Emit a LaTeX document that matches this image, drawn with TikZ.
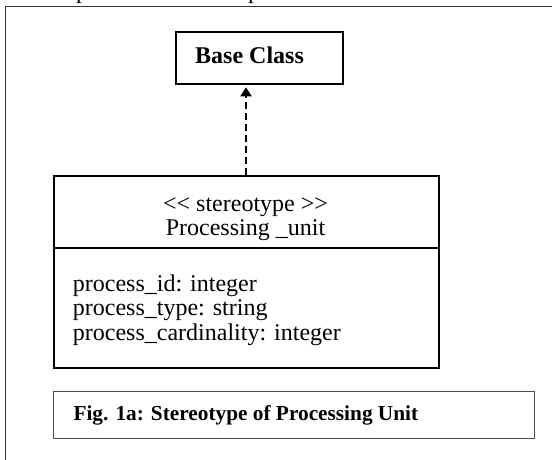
\documentclass[tikz,border=0pt]{standalone}
\usepackage{fontspec}
\setmainfont{Liberation Serif}
\usetikzlibrary{arrows.meta}
\begin{document}
\begin{tikzpicture}[x=1pt,y=-1pt,
  frameline/.style={draw=black!80,line width=1pt},
  umlbox/.style={draw=black,line width=2pt,rectangle,inner sep=0pt,anchor=north west},
  capbox/.style={draw=black!70,line width=0.9pt,rectangle,inner sep=0pt,anchor=north west},
  txt/.style={inner sep=0pt,font=\fontsize{24}{24.5}\selectfont},
  boldtxt/.style={inner sep=0pt,font=\fontsize{24}{24.5}\selectfont\bfseries},
  captxt/.style={inner sep=0pt,font=\fontsize{21.3}{24}\selectfont\bfseries},
  dep/.style={line width=2pt,dash pattern=on 7pt off 4pt,-{Triangle[length=9pt,width=11pt]},shorten >=2pt}]
\useasboundingbox (0,0) rectangle (552,459);
% page frame, running off the right and bottom edges
\draw[frameline] (5,470) -- (5,6) -- (560,6);
% tails of the line of text above the frame
\node[txt,anchor=base] (tailA) at (82,-1.5) {p};
\node[txt,anchor=base] (tailB) at (254,-1.5) {p};
% base class
\node[umlbox,minimum width=167pt,minimum height=52.6pt] (base) at (174.5,30.7) {};
\node[boldtxt,anchor=base west] (basename) at (195,63.3) {Base Class};
% stereotype class: name compartment and attribute compartment
\node[umlbox,minimum width=384.4pt,minimum height=71.5pt] (head) at (53.3,175) {};
\node[umlbox,minimum width=384.4pt,minimum height=120.2pt] (body) at (53.3,246.5) {};
\node[txt,anchor=base] (stereo) at (245.5,211.7) {<{}< stereotype >{}>};
\node[txt,anchor=base] (cname) at (245.5,235.2) {Processing \_unit};
\node[txt,anchor=base west] (attrA) at (72.7,291) {process\_id: integer};
\node[txt,anchor=base west] (attrB) at (72.7,315.5) {process\_type: string};
\node[txt,anchor=base west] (attrC) at (72.7,340) {process\_cardinality: integer};
% dependency arrow
\draw[dep] (head.north -| 246,0) -- (base.south -| 246,0);
% caption
\node[capbox,minimum width=480.7pt,minimum height=47pt] (cap) at (53.3,390.7) {};
\node[captxt,anchor=base west] (captext) at (73.3,420) {Fig. 1a: Stereotype of Processing Unit};
\end{tikzpicture}
\end{document}
